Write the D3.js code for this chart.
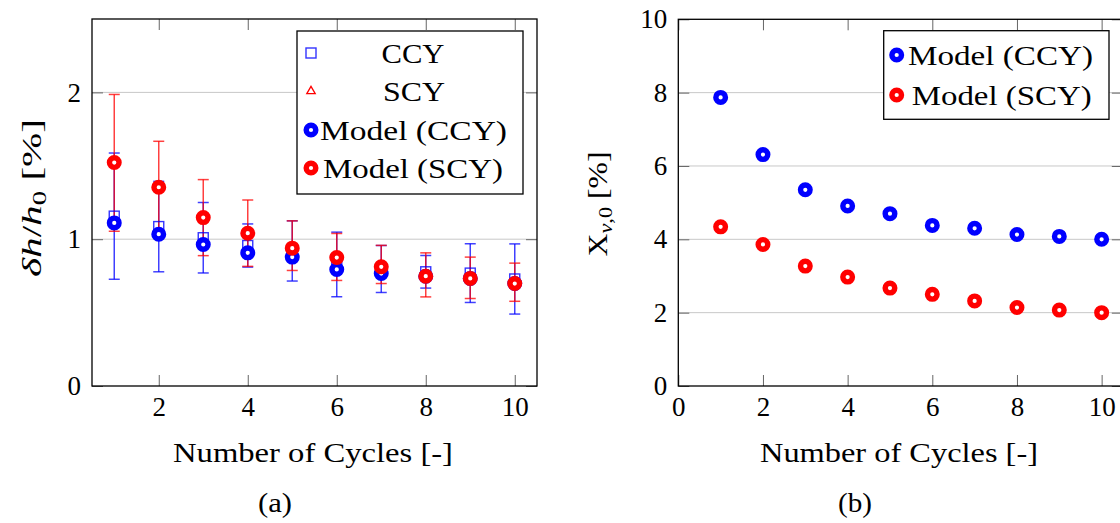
<!DOCTYPE html>
<html>
<head>
<meta charset="utf-8">
<script src="https://cdn.jsdelivr.net/npm/d3@7/dist/d3.min.js"></script>
<style>
  html, body { margin: 0; padding: 0; background: #fff; }
  svg { display: block; }
  text { font-family: "Liberation Serif", "Times New Roman", serif; fill: #000; }
</style>
</head>
<body>
<svg id="chart" width="1120" height="523"></svg>
<script>
// Cycle numbers shared by both panels
const cycles = [1, 2, 3, 4, 5, 6, 7, 8, 9, 10];

// (a) measured relative settlement with error bars
const ccyMean = [1.157, 1.086, 1.010, 0.957, 0.920, 0.828, 0.797, 0.778, 0.769, 0.729];
const ccyErr  = [0.430, 0.308, 0.240, 0.147, 0.205, 0.220, 0.160, 0.111, 0.200, 0.239];
const scyMean = [1.520, 1.354, 1.147, 1.041, 0.956, 0.879, 0.828, 0.757, 0.737, 0.707];
const scyErr  = [0.466, 0.313, 0.259, 0.226, 0.169, 0.160, 0.130, 0.150, 0.141, 0.130];
// (a) model predictions
const modelCcyA = [1.111, 1.034, 0.964, 0.907, 0.878, 0.794, 0.766, 0.748, 0.733, 0.698];
const modelScyA = [1.522, 1.354, 1.147, 1.041, 0.939, 0.875, 0.812, 0.748, 0.733, 0.698];

// (b) model void fraction
const modelCcyB = [7.87, 6.31, 5.35, 4.91, 4.70, 4.38, 4.30, 4.13, 4.08, 4.00];
const modelScyB = [4.34, 3.86, 3.27, 2.97, 2.67, 2.50, 2.32, 2.14, 2.07, 2.00];

// Tick values
const xTicksA = [2, 4, 6, 8, 10];
const yTicksA = [0, 1, 2];
const xTicksB = [0, 2, 4, 6, 8, 10];
const yTicksB = [0, 2, 4, 6, 8, 10];

const BLUE = "#0000ff", RED = "#ff0000";
const FS = 27;
const svg = d3.select("#chart");

// text helper: fixed rendered width so the wide serif metrics are kept
function label(g, x, y, str, size, width) {
  const t = g.append("text").attr("x", x).attr("y", y).attr("text-anchor", "middle")
    .style("font-size", size + "px").text(str);
  if (width) t.attr("textLength", width).attr("lengthAdjust", "spacingAndGlyphs");
  return t;
}

function frame(g, x, y, xTicks, yTicks, gridTicks) {
  const [x0, x1] = x.range(), [y0, y1] = y.range();
  g.append("g").selectAll("line").data(gridTicks).join("line")
    .attr("x1", x0).attr("x2", x1)
    .attr("y1", d => y(d)).attr("y2", d => y(d))
    .attr("stroke", "#c8c8c8").attr("stroke-width", 1);

  const tick = 11;
  const styleAxis = a => {
    a.select(".domain").remove();
    a.selectAll(".tick line").attr("stroke", "#666").attr("stroke-width", 1);
    a.selectAll("text").style("font-size", FS + "px").style("font-family", "Liberation Serif, serif").attr("fill", "#000");
  };
  g.append("g").attr("transform", `translate(0,${y0})`)
    .call(d3.axisBottom(x).tickValues(xTicks).tickFormat(d3.format("d")).tickSizeInner(-tick).tickSizeOuter(0).tickPadding(10.5))
    .call(styleAxis);
  g.append("g").attr("transform", `translate(0,${y1})`)
    .call(d3.axisTop(x).tickValues(xTicks).tickFormat("").tickSizeInner(-tick).tickSizeOuter(0))
    .call(styleAxis);
  g.append("g").attr("transform", `translate(${x0},0)`)
    .call(d3.axisLeft(y).tickValues(yTicks).tickFormat(d3.format("d")).tickSizeInner(-tick).tickSizeOuter(0).tickPadding(11))
    .call(styleAxis);
  g.append("g").attr("transform", `translate(${x1},0)`)
    .call(d3.axisRight(y).tickValues(yTicks).tickFormat("").tickSizeInner(-tick).tickSizeOuter(0))
    .call(styleAxis);

  g.append("rect")
    .attr("x", x0).attr("y", y1).attr("width", x1 - x0).attr("height", y0 - y1)
    .attr("fill", "none").attr("stroke", "#000").attr("stroke-width", 1.3);
}

function ring(sel, color) {
  sel.attr("r", 4.8).attr("fill", "#fff").attr("stroke", color).attr("stroke-width", 5.4);
}

function errorBars(g, x, y, mean, err, color) {
  const bars = g.append("g").attr("stroke", color).attr("stroke-width", 1.5).attr("stroke-opacity", 0.75);
  cycles.forEach((c, i) => {
    const cx = x(c), top = y(mean[i] + err[i]), bot = y(mean[i] - err[i]);
    bars.append("line").attr("x1", cx).attr("x2", cx).attr("y1", top).attr("y2", bot);
    bars.append("line").attr("x1", cx - 5.5).attr("x2", cx + 5.5).attr("y1", top).attr("y2", top);
    bars.append("line").attr("x1", cx - 5.5).attr("x2", cx + 5.5).attr("y1", bot).attr("y2", bot);
  });
}

const triPath = "M0,-4.6L4.2,2.6L-4.2,2.6Z";

// ---------- Panel (a) ----------
{
  const x = d3.scaleLinear().domain([0.5, 10.5]).range([92, 537]);
  const y = d3.scaleLinear().domain([0, 2.5]).range([386, 19]);
  const g = svg.append("g");
  frame(g, x, y, xTicksA, yTicksA, [1, 2]);

  errorBars(g, x, y, ccyMean, ccyErr, BLUE);
  errorBars(g, x, y, scyMean, scyErr, RED);

  g.append("g").selectAll("rect").data(cycles).join("rect")
    .attr("x", (d) => x(d) - 5).attr("y", (d, i) => y(ccyMean[i]) - 5)
    .attr("width", 10).attr("height", 10)
    .attr("fill", "none").attr("stroke", BLUE).attr("stroke-width", 1.4).attr("stroke-opacity", 0.8);
  g.append("g").selectAll("path").data(cycles).join("path")
    .attr("d", triPath)
    .attr("transform", (d, i) => `translate(${x(d)},${y(scyMean[i])})`)
    .attr("fill", "none").attr("stroke", RED).attr("stroke-width", 1.3);

  g.append("g").selectAll("circle").data(cycles).join("circle")
    .attr("cx", d => x(d)).attr("cy", (d, i) => y(modelCcyA[i])).call(ring, BLUE);
  g.append("g").selectAll("circle").data(cycles).join("circle")
    .attr("cx", d => x(d)).attr("cy", (d, i) => y(modelScyA[i])).call(ring, RED);

  // legend
  const lg = g.append("g");
  lg.append("rect").attr("x", 297).attr("y", 31).attr("width", 226).attr("height", 163)
    .attr("fill", "#fff").attr("stroke", "#000").attr("stroke-width", 1.3);
  const rows = [
    { label: "CCY", type: "square", color: BLUE, cy: 53, w: 63, cx: 413 },
    { label: "SCY", type: "tri", color: RED, cy: 91, w: 62, cx: 414 },
    { label: "Model (CCY)", type: "ring", color: BLUE, cy: 130, w: 187, cx: 413.5 },
    { label: "Model (SCY)", type: "ring", color: RED, cy: 168, w: 180, cx: 413 }
  ];
  rows.forEach(r => {
    if (r.type === "square") {
      lg.append("rect").attr("x", 311 - 5).attr("y", r.cy - 5).attr("width", 10).attr("height", 10)
        .attr("fill", "none").attr("stroke", r.color).attr("stroke-width", 1.4).attr("stroke-opacity", 0.8);
    } else if (r.type === "tri") {
      lg.append("path").attr("d", triPath).attr("transform", `translate(311,${r.cy})`)
        .attr("fill", "none").attr("stroke", r.color).attr("stroke-width", 1.3);
    } else {
      lg.append("circle").attr("cx", 311).attr("cy", r.cy).call(ring, r.color);
    }
    label(lg, r.cx, r.cy + 10, r.label, 28, r.w);
  });

  // axis titles
  label(g, 313, 462, "Number of Cycles [-]", FS, 280);
  const yt = g.append("text").attr("transform", "translate(41,198) rotate(-90)")
    .attr("text-anchor", "middle").style("font-size", FS + "px")
    .attr("textLength", 158).attr("lengthAdjust", "spacingAndGlyphs");
  yt.append("tspan").style("font-style", "italic").text("δh");
  yt.append("tspan").text("/");
  yt.append("tspan").style("font-style", "italic").text("h");
  yt.append("tspan").attr("dy", 5).style("font-size", "19px").text("0");
  yt.append("tspan").attr("dy", -5).text("\u00a0[%]");

  label(g, 275, 512, "(a)", FS, 34);
}

// ---------- Panel (b) ----------
{
  const x = d3.scaleLinear().domain([0, 10.5]).range([678.3, 1122.8]);
  const y = d3.scaleLinear().domain([0, 10]).range([386, 19.3]);
  const g = svg.append("g");
  frame(g, x, y, xTicksB, yTicksB, [2, 4, 6, 8]);

  g.append("g").selectAll("circle").data(cycles).join("circle")
    .attr("cx", d => x(d)).attr("cy", (d, i) => y(modelCcyB[i])).call(ring, BLUE);
  g.append("g").selectAll("circle").data(cycles).join("circle")
    .attr("cx", d => x(d)).attr("cy", (d, i) => y(modelScyB[i])).call(ring, RED);

  const lg = g.append("g");
  lg.append("rect").attr("x", 883.7).attr("y", 30.7).attr("width", 225.3).attr("height", 88.6)
    .attr("fill", "#fff").attr("stroke", "#000").attr("stroke-width", 1.3);
  [{ label: "Model (CCY)", color: BLUE, cy: 55, w: 185, cx: 1000.5 },
   { label: "Model (SCY)", color: RED, cy: 95, w: 180, cx: 1001.7 }].forEach(r => {
    lg.append("circle").attr("cx", 896.7).attr("cy", r.cy).call(ring, r.color);
    label(lg, r.cx, r.cy + 10, r.label, 28, r.w);
  });

  label(g, 899, 462, "Number of Cycles [-]", FS, 278);
  const yt = g.append("text").attr("transform", "translate(607,204) rotate(-90)")
    .attr("text-anchor", "middle").style("font-size", FS + "px")
    .attr("textLength", 105).attr("lengthAdjust", "spacingAndGlyphs");
  yt.append("tspan").text("X");
  yt.append("tspan").attr("dy", 5).style("font-size", "19px").style("font-style", "italic").text("v");
  yt.append("tspan").style("font-size", "19px").text(",0");
  yt.append("tspan").attr("dy", -5).text("\u00a0[%]");

  label(g, 855, 512, "(b)", FS, 34);
}
</script>
</body>
</html>
